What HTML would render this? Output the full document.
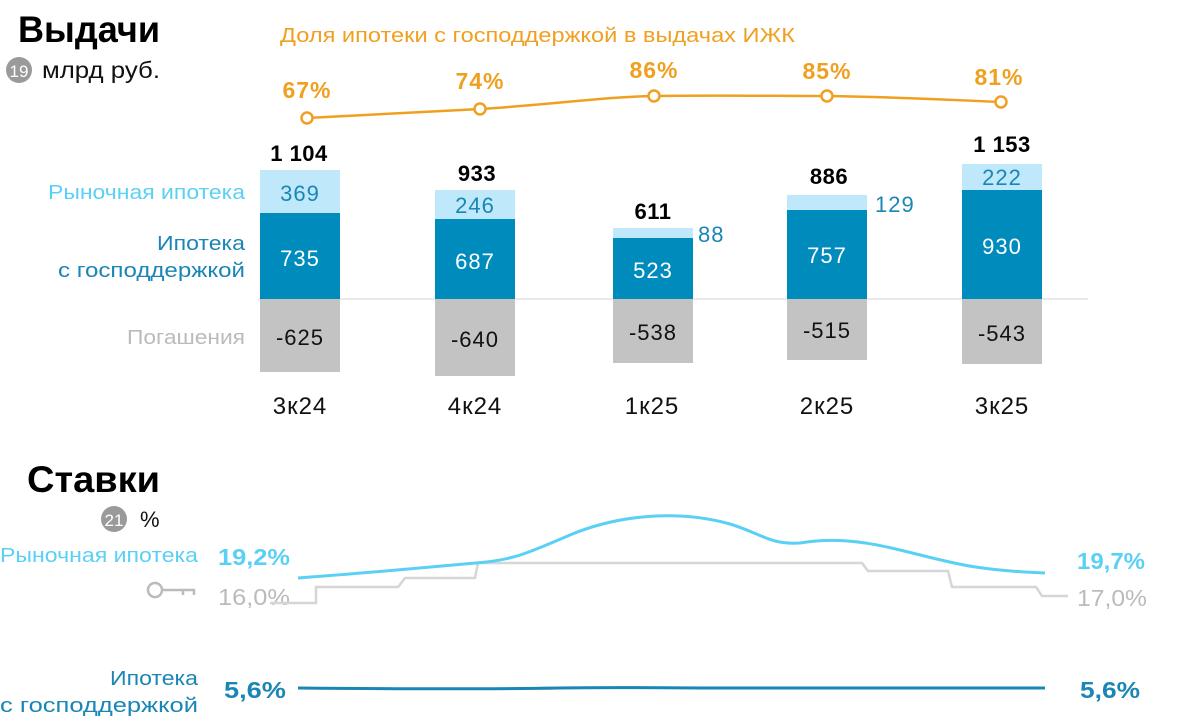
<!DOCTYPE html>
<html><head><meta charset="utf-8"><style>
html,body{margin:0;padding:0;background:#fff}
svg{display:block;font-family:"Liberation Sans","Noto Sans CJK SC",sans-serif}
</style></head><body>
<svg width="1200" height="724" viewBox="0 0 1200 724" xmlns="http://www.w3.org/2000/svg">
<text x="18" y="42" font-size="37" font-weight="bold" fill="#000" textLength="142" lengthAdjust="spacingAndGlyphs">Выдачи</text>
<circle cx="19" cy="70" r="13" fill="#9a9a9a"/>
<text x="19" y="77" font-size="17" fill="#fff" text-anchor="middle">19</text>
<text x="42" y="78" font-size="23" fill="#111" textLength="118" lengthAdjust="spacingAndGlyphs">млрд руб.</text>
<text x="280" y="42" font-size="20" fill="#f0a020" textLength="515" lengthAdjust="spacingAndGlyphs">Доля ипотеки с господдержкой в выдачах ИЖК</text>

<path d="M307,118 C390,114 420,112 480,109 C560,104 600,97 654,96 C720,95 770,96 827,96 C900,97 950,100 1001,102" fill="none" stroke="#f0a020" stroke-width="2.5"/>
<g fill="#fff" stroke="#f0a020" stroke-width="2.5">
<circle cx="307" cy="118" r="5.5"/><circle cx="480" cy="109" r="5.5"/><circle cx="654" cy="96" r="5.5"/><circle cx="827" cy="96" r="5.5"/><circle cx="1001" cy="102" r="5.5"/>
</g>
<g font-size="23" font-weight="bold" fill="#f0a020" text-anchor="middle" letter-spacing="1">
<text x="307" y="98">67%</text><text x="480" y="89">74%</text><text x="654" y="78">86%</text><text x="827" y="79">85%</text><text x="999" y="85">81%</text>
</g>

<line x1="258" y1="299" x2="1088" y2="299" stroke="#e4e4e4" stroke-width="1.5"/>

<g>
<rect x="260" y="170" width="80" height="43" fill="#bfe9fb"/>
<rect x="260" y="213" width="80" height="86" fill="#008bbd"/>
<rect x="260" y="299" width="80" height="73" fill="#c3c3c3"/>
<rect x="435" y="190" width="80" height="29" fill="#bfe9fb"/>
<rect x="435" y="219" width="80" height="80" fill="#008bbd"/>
<rect x="435" y="299" width="80" height="77" fill="#c3c3c3"/>
<rect x="613" y="228" width="80" height="10" fill="#bfe9fb"/>
<rect x="613" y="238" width="80" height="61" fill="#008bbd"/>
<rect x="613" y="299" width="80" height="64" fill="#c3c3c3"/>
<rect x="787" y="195" width="80" height="15" fill="#bfe9fb"/>
<rect x="787" y="210" width="80" height="89" fill="#008bbd"/>
<rect x="787" y="299" width="80" height="61" fill="#c3c3c3"/>
<rect x="962" y="164" width="80" height="26" fill="#bfe9fb"/>
<rect x="962" y="190" width="80" height="109" fill="#008bbd"/>
<rect x="962" y="299" width="80" height="65" fill="#c3c3c3"/>
</g>
<g font-size="22" text-anchor="middle" letter-spacing="1">
<g fill="#1a86b5"><text x="300" y="201">369</text><text x="475" y="213">246</text><text x="1002" y="185">222</text></g>
<text x="698" y="242" fill="#1a86b5" text-anchor="start">88</text>
<text x="875" y="212" fill="#1a86b5" text-anchor="start">129</text>
<g fill="#fff"><text x="300" y="266">735</text><text x="475" y="269">687</text><text x="653" y="278">523</text><text x="827" y="263">757</text><text x="1002" y="254">930</text></g>
<g fill="#111"><text x="300" y="345">-625</text><text x="475" y="347">-640</text><text x="653" y="340">-538</text><text x="827" y="338">-515</text><text x="1002" y="341">-543</text></g>
<g fill="#000" font-weight="bold" letter-spacing="0.5"><text x="299" y="161">1 104</text><text x="477" y="181">933</text><text x="653" y="219">611</text><text x="829" y="184">886</text><text x="1002" y="152">1 153</text></g>
<g fill="#111" font-size="24"><text x="300" y="414">3к24</text><text x="475" y="414">4к24</text><text x="652" y="414">1к25</text><text x="827" y="414">2к25</text><text x="1002" y="414">3к25</text></g>
</g>
<g font-size="20">
<text x="48" y="199" fill="#5bd0f5" textLength="197" lengthAdjust="spacingAndGlyphs">Рыночная ипотека</text>
<text x="157" y="250" fill="#1a86b5" textLength="88" lengthAdjust="spacingAndGlyphs">Ипотека</text>
<text x="58" y="277" fill="#1a86b5" textLength="187" lengthAdjust="spacingAndGlyphs">с господдержкой</text>
<text x="127" y="344" fill="#bbb" textLength="118" lengthAdjust="spacingAndGlyphs">Погашения</text>
</g>

<text x="27" y="492" font-size="37" font-weight="bold" fill="#000" textLength="133" lengthAdjust="spacingAndGlyphs">Ставки</text>
<circle cx="114" cy="519" r="13" fill="#9a9a9a"/>
<text x="114" y="526" font-size="17" fill="#fff" text-anchor="middle">21</text>
<text x="140" y="527" font-size="22" fill="#111">%</text>

<text x="0" y="562" font-size="20" fill="#5bd0f5" textLength="198" lengthAdjust="spacingAndGlyphs">Рыночная ипотека</text>
<text x="218" y="565" font-size="23" font-weight="bold" fill="#5bd0f5" textLength="72" lengthAdjust="spacingAndGlyphs">19,2%</text>
<text x="218" y="605" font-size="23" fill="#bbb" textLength="72" lengthAdjust="spacingAndGlyphs">16,0%</text>
<g fill="none" stroke="#bbb" stroke-width="2.5">
<circle cx="155" cy="590" r="7"/>
<path d="M162,590 H195 M183,590 V595 M194,590 V595"/>
</g>

<path d="M270,603 H316 V587 H398 L405,578 H475 L478,563 H862 L868,571 H948 L952,587 H1036 L1042,596 H1068" fill="none" stroke="#d6d6d6" stroke-width="2.5"/>
<path d="M298,578 C380,572 440,566 476,563 C515,560 530,552 570,535 C620,514 680,510 730,524 C760,533 770,545 800,543 C830,538 860,540 900,550 C950,562 970,570 1045,573" fill="none" stroke="#5bd0f5" stroke-width="3"/>
<text x="1077" y="569" font-size="23" font-weight="bold" fill="#5bd0f5" textLength="68" lengthAdjust="spacingAndGlyphs">19,7%</text>
<text x="1077" y="606" font-size="23" fill="#bbb" textLength="70" lengthAdjust="spacingAndGlyphs">17,0%</text>

<text x="110" y="685" font-size="20" fill="#1a86b5" textLength="88" lengthAdjust="spacingAndGlyphs">Ипотека</text>
<text x="0" y="712" font-size="20" fill="#1a86b5" textLength="198" lengthAdjust="spacingAndGlyphs">с господдержкой</text>
<text x="224" y="698" font-size="23" font-weight="bold" fill="#1a86b5" textLength="62" lengthAdjust="spacingAndGlyphs">5,6%</text>
<path d="M298,688 C400,689 500,689 560,688 C620,687 660,688 720,688 C800,689 900,687 1045,688" fill="none" stroke="#1a86b5" stroke-width="3"/>
<text x="1080" y="698" font-size="23" font-weight="bold" fill="#1a86b5" textLength="60" lengthAdjust="spacingAndGlyphs">5,6%</text>
</svg>
</body></html>
